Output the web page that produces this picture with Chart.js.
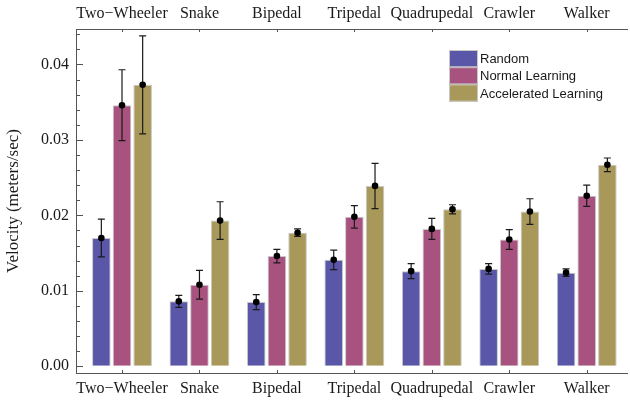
<!DOCTYPE html>
<html><head><meta charset="utf-8">
<script src="https://cdn.jsdelivr.net/npm/chart.js@4.4.1/dist/chart.umd.min.js"></script>
<style>html,body{margin:0;padding:0;background:#fff}#wrap{width:630px;height:401px;position:relative}</style>
</head><body><div id="wrap"><canvas id="c" width="630" height="401"></canvas></div>
<script>
const categories = ["Two\u2212Wheeler","Snake","Bipedal","Tripedal","Quadrupedal","Crawler","Walker"];
const seriesNames = ["Random","Normal Learning","Accelerated Learning"];
const randomVals = [0.0170, 0.0086, 0.0085, 0.0141, 0.0126, 0.0129, 0.0124];
const randomErr  = [0.0025, 0.0008, 0.0010, 0.0013, 0.0010, 0.0007, 0.0005];
const normalVals = [0.0346, 0.0108, 0.0146, 0.0198, 0.0182, 0.0168, 0.0226];
const normalErr  = [0.0047, 0.0019, 0.0009, 0.0015, 0.0014, 0.0013, 0.0014];
const accelVals  = [0.0373, 0.0193, 0.0177, 0.0239, 0.0208, 0.0205, 0.0267];
const accelErr   = [0.0065, 0.0025, 0.0005, 0.0030, 0.0006, 0.0017, 0.0009];
const yTickValues = [0, 0.01, 0.02, 0.03, 0.04];
const yTickLabels = ["0.00", "0.01", "0.02", "0.03", "0.04"];

const colors = ["#5a56a8", "#a8527f", "#a8995a"];
const edge = "#c8c8c8";
const serif = "'Liberation Serif', 'DejaVu Serif', serif";
const sans = "'Liberation Sans', Arial, sans-serif";
const axisColor = "#555";
const textColor = "#1a1a1a";

const valueSets = [randomVals, normalVals, accelVals];
const errSets = [randomErr, normalErr, accelErr];

const datasets = seriesNames.map((name, s) => ({
  label: name,
  data: valueSets[s].map((v, i) => ({x: i, y: v})),
  errors: errSets[s],
  backgroundColor: colors[s],
  borderColor: edge,
  borderWidth: 1,
  categoryPercentage: 0.8,
  barPercentage: 0.9,
  xAxisID: 'x',
  yAxisID: 'y'
}));

const catTicks = (s) => { s.ticks = categories.map((c, i) => ({value: i})); };
const xMin = -0.594, xMax = 6.52;

const overlay = {
  id: 'overlay',
  afterDatasetsDraw(chart) {
    const ctx = chart.ctx;
    const ys = chart.scales.y;
    ctx.save();
    chart.data.datasets.forEach((ds, di) => {
      const meta = chart.getDatasetMeta(di);
      meta.data.forEach((el, j) => {
        const v = ds.data[j].y, e = ds.errors[j];
        const x = el.x;
        const yt = ys.getPixelForValue(v + e), yb = ys.getPixelForValue(v - e), yv = ys.getPixelForValue(v);
        ctx.strokeStyle = "#1a1a1a";
        ctx.lineWidth = 1.2;
        ctx.beginPath();
        ctx.moveTo(x, yt); ctx.lineTo(x, yb);
        ctx.moveTo(x - 3.5, yt); ctx.lineTo(x + 3.5, yt);
        ctx.moveTo(x - 3.5, yb); ctx.lineTo(x + 3.5, yb);
        ctx.stroke();
        ctx.fillStyle = "#000";
        ctx.beginPath();
        ctx.arc(x, yv, 3.3, 0, Math.PI * 2);
        ctx.fill();
      });
    });
    ctx.restore();
  },
  afterDraw(chart) {
    const ctx = chart.ctx;
    const ys = chart.scales.y, xs = chart.scales.x;
    const a = chart.chartArea;
    ctx.save();
    ctx.strokeStyle = axisColor;
    ctx.lineWidth = 1;
    for (let k = 0; k <= 22; k++) {
      const v = k * 0.002;
      const y = Math.round(ys.getPixelForValue(v)) + 0.5;
      const len = (k % 5 === 0) ? 7 : 4;
      ctx.beginPath(); ctx.moveTo(a.left, y); ctx.lineTo(a.left + len, y); ctx.stroke();
    }
    categories.forEach((c, i) => {
      const x = Math.round(xs.getPixelForValue(i)) + 0.5;
      ctx.beginPath();
      ctx.moveTo(x, a.bottom); ctx.lineTo(x, a.bottom - 3);
      ctx.moveTo(x, a.top); ctx.lineTo(x, a.top + 3);
      ctx.stroke();
    });
    const lx = 449, lw = 29, ly = 50, lh = 17.2;
    ctx.font = "13px " + sans;
    ctx.textBaseline = "middle";
    ctx.textAlign = "left";
    chart.data.datasets.forEach((ds, di) => {
      const y0 = ly + di * lh;
      ctx.fillStyle = ds.backgroundColor;
      ctx.fillRect(lx, y0, lw, lh);
      ctx.strokeStyle = edge;
      ctx.strokeRect(lx + 0.5, y0 + 0.5, lw - 1, lh - 1);
      ctx.fillStyle = textColor;
      ctx.fillText(ds.label, lx + lw + 2, y0 + lh / 2 + 1);
    });
    ctx.restore();
  }
};

const xAxisCommon = {
  type: 'linear',
  min: xMin, max: xMax,
  offset: false,
  afterBuildTicks: catTicks,
  ticks: {
    callback: (v) => categories[v],
    font: {family: serif, size: 16},
    color: textColor,
    autoSkip: false, maxRotation: 0, minRotation: 0
  },
  grid: {drawOnChartArea: false, drawTicks: false, offset: false},
  border: {display: true, color: axisColor, width: 1}
};

new Chart(document.getElementById('c'), {
  type: 'bar',
  data: {datasets},
  options: {
    responsive: false,
    animation: false,
    devicePixelRatio: 1,
    layout: {padding: {left: 0, right: 3, top: 0, bottom: 0}},
    plugins: {legend: {display: false}, tooltip: {enabled: false}},
    scales: {
      x: Object.assign({}, xAxisCommon, {
        position: 'bottom',
        ticks: Object.assign({}, xAxisCommon.ticks, {padding: 6}),
        afterFit: (s) => { s.height = 28; }
      }),
      x2: Object.assign({}, xAxisCommon, {
        position: 'top',
        ticks: Object.assign({}, xAxisCommon.ticks, {padding: 6}),
        afterFit: (s) => { s.height = 29; }
      }),
      y: {
        type: 'linear',
        min: -0.0009, max: 0.0447,
        afterBuildTicks: (s) => { s.ticks = yTickValues.map(v => ({value: v})); },
        ticks: {
          callback: (v) => yTickLabels[yTickValues.indexOf(v)],
          font: {family: serif, size: 16},
          color: textColor,
          padding: 7
        },
        title: {display: true, text: 'Velocity (meters/sec)', font: {family: serif, size: 17}, color: textColor, padding: {top: 3, bottom: 0}},
        grid: {drawOnChartArea: false, drawTicks: false},
        border: {display: true, color: axisColor, width: 1},
        afterFit: (s) => { s.width = 76; }
      }
    }
  },
  plugins: [overlay]
});
</script>
</body></html>
